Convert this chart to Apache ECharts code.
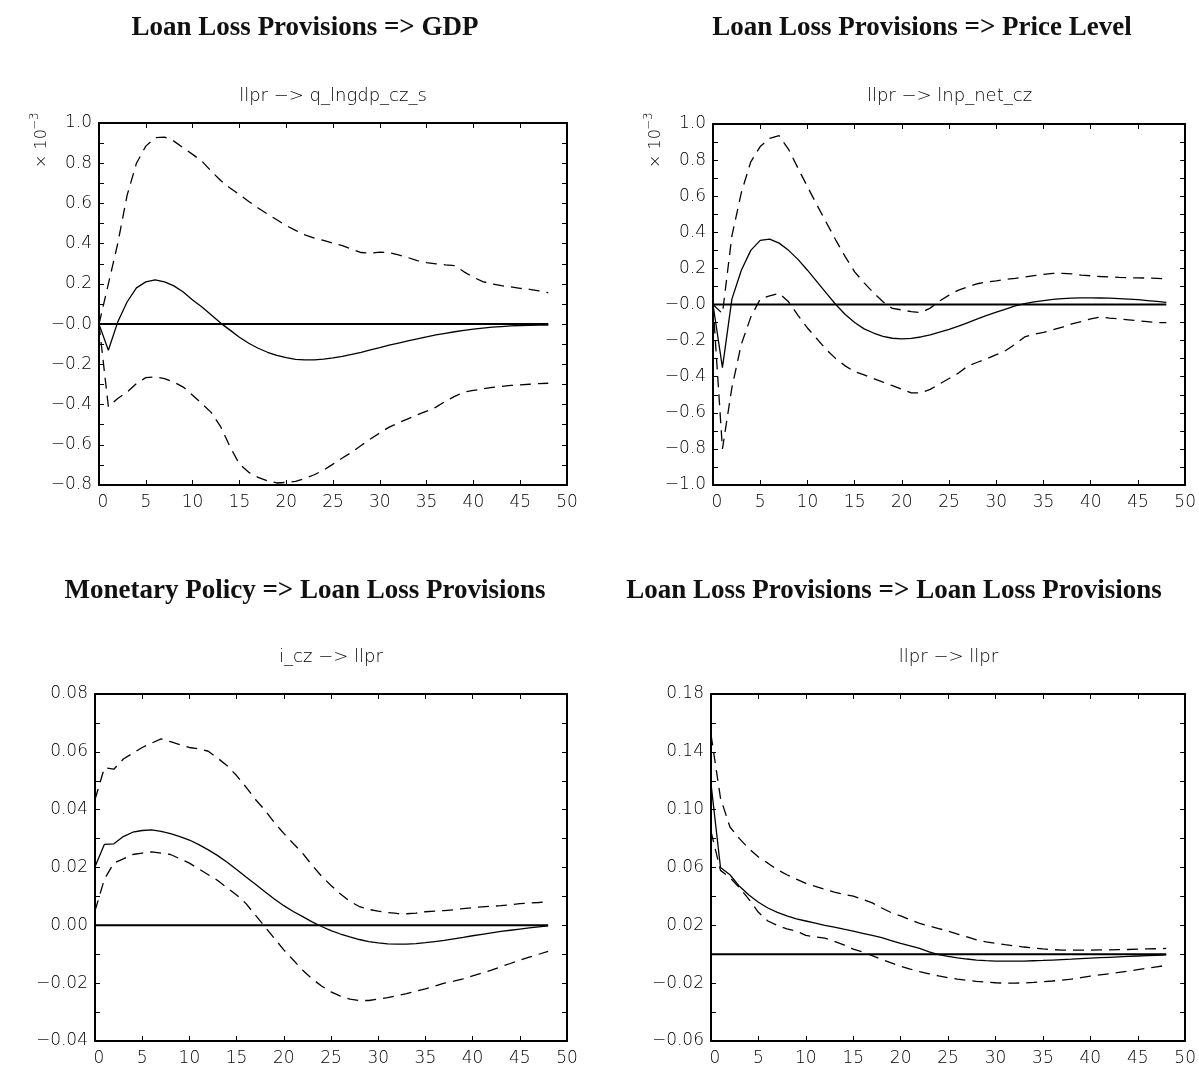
<!DOCTYPE html>
<html>
<head>
<meta charset="utf-8">
<title>Impulse responses: loan loss provisions</title>
<script src="https://cdn.jsdelivr.net/npm/echarts@6/dist/echarts.min.js"></script>
<style>
  html, body { margin: 0; padding: 0; background: #ffffff; }
  #chart { width: 1199px; height: 1068px; }
</style>
</head>
<body>
<div id="chart"></div>
<script>
// Forecast horizon (quarters after the shock)
const horizon = [0, 1, 2, 3, 4, 5, 6, 7, 8, 9, 10, 11, 12, 13, 14, 15, 16, 17, 18, 19, 20,
  21, 22, 23, 24, 25, 26, 27, 28, 29, 30, 31, 32, 33, 34, 35, 36, 37, 38, 39, 40,
  41, 42, 43, 44, 45, 46, 47, 48];

// llpr -> q_lngdp_cz_s  (x 10^-3)
const gdpIrf = [0, -0.13, 0.01, 0.11, 0.18, 0.21, 0.22, 0.21, 0.19, 0.16, 0.12, 0.085, 0.045, 0.005,
  -0.03, -0.065, -0.095, -0.12, -0.14, -0.155, -0.167, -0.175, -0.178, -0.178, -0.174, -0.168, -0.16,
  -0.15, -0.14, -0.128, -0.117, -0.105, -0.094, -0.083, -0.073, -0.063, -0.054, -0.046, -0.038, -0.031,
  -0.025, -0.02, -0.015, -0.012, -0.009, -0.007, -0.006, -0.005, -0.005];
const gdpUpper = [0, 0.2, 0.4, 0.64, 0.8, 0.885, 0.927, 0.93, 0.91, 0.877, 0.844, 0.81, 0.76, 0.714,
  0.677, 0.644, 0.61, 0.577, 0.547, 0.519, 0.49, 0.466, 0.444, 0.428, 0.416, 0.403, 0.39, 0.373, 0.356,
  0.353, 0.358, 0.356, 0.344, 0.331, 0.316, 0.306, 0.3, 0.295, 0.291, 0.26, 0.233, 0.211, 0.2, 0.191,
  0.185, 0.178, 0.173, 0.165, 0.156];
const gdpLower = [0, -0.41, -0.37, -0.338, -0.296, -0.266, -0.263, -0.271, -0.288, -0.313, -0.354,
  -0.396, -0.44, -0.51, -0.61, -0.696, -0.737, -0.762, -0.779, -0.79, -0.787, -0.782, -0.767, -0.749,
  -0.726, -0.696, -0.666, -0.637, -0.604, -0.571, -0.541, -0.512, -0.491, -0.471, -0.451, -0.433,
  -0.413, -0.384, -0.359, -0.338, -0.33, -0.322, -0.315, -0.31, -0.305, -0.302, -0.299, -0.296, -0.294];

// llpr -> lnp_net_cz  (x 10^-3)
const priceIrf = [0, -0.35, 0.03, 0.19, 0.3, 0.355, 0.362, 0.34, 0.3, 0.25, 0.19, 0.127, 0.063, 0,
  -0.055, -0.1, -0.135, -0.158, -0.176, -0.187, -0.19, -0.188, -0.18, -0.168, -0.153, -0.138, -0.12,
  -0.1, -0.08, -0.06, -0.042, -0.025, -0.008, 0.005, 0.015, 0.022, 0.028, 0.032, 0.035, 0.037, 0.037,
  0.036, 0.035, 0.033, 0.03, 0.027, 0.022, 0.017, 0.012];
const priceUpper = [0, -0.05, 0.38, 0.62, 0.79, 0.875, 0.92, 0.935, 0.86, 0.755, 0.653, 0.552, 0.454,
  0.357, 0.265, 0.181, 0.12, 0.065, 0.015, -0.022, -0.03, -0.04, -0.045, -0.02, 0.02, 0.052, 0.08,
  0.098, 0.115, 0.125, 0.131, 0.14, 0.145, 0.152, 0.16, 0.167, 0.172, 0.172, 0.17, 0.163, 0.159,
  0.155, 0.153, 0.15, 0.148, 0.148, 0.146, 0.145, 0.143];
const priceLower = [0, -0.8, -0.46, -0.22, -0.07, 0.03, 0.048, 0.062, 0.015, -0.06, -0.13, -0.19,
  -0.25, -0.3, -0.34, -0.372, -0.39, -0.41, -0.43, -0.45, -0.47, -0.49, -0.49, -0.47, -0.44, -0.41,
  -0.38, -0.34, -0.32, -0.3, -0.278, -0.255, -0.22, -0.18, -0.165, -0.155, -0.14, -0.125, -0.107,
  -0.095, -0.08, -0.069, -0.075, -0.08, -0.085, -0.09, -0.095, -0.1, -0.1];

// i_cz -> llpr
const rateIrf = [0.0203, 0.028, 0.0282, 0.0307, 0.0322, 0.0328, 0.033, 0.0325, 0.0317, 0.0307,
  0.0295, 0.0279, 0.0261, 0.0241, 0.0218, 0.0193, 0.0167, 0.0142, 0.0116, 0.0091, 0.0068, 0.0048,
  0.003, 0.0012, -0.0004, -0.0018, -0.003, -0.004, -0.0049, -0.0056, -0.0061, -0.0064, -0.0065,
  -0.0065, -0.0063, -0.006, -0.0056, -0.0052, -0.0047, -0.0042, -0.0036, -0.0031, -0.0026, -0.0021,
  -0.0017, -0.0013, -0.0009, -0.0005, -0.0002];
const rateUpper = [0.0435, 0.0545, 0.054, 0.0575, 0.0595, 0.0615, 0.063, 0.0645, 0.0635, 0.0625,
  0.0615, 0.061, 0.0602, 0.0578, 0.0552, 0.0518, 0.0478, 0.0435, 0.0398, 0.0355, 0.0318, 0.0283,
  0.0249, 0.0208, 0.017, 0.0138, 0.0108, 0.0083, 0.0065, 0.0055, 0.0049, 0.0044, 0.0041, 0.004,
  0.0042, 0.0047, 0.0049, 0.0051, 0.0054, 0.0058, 0.0061, 0.0064, 0.0066, 0.0068, 0.0071, 0.0075,
  0.0077, 0.0079, 0.0082];
const rateLower = [0.005, 0.016, 0.0215, 0.023, 0.0245, 0.025, 0.0254, 0.025, 0.0245, 0.023, 0.0215,
  0.0195, 0.0175, 0.0155, 0.013, 0.0105, 0.0075, 0.0035, -0.0005, -0.0045, -0.0085, -0.012, -0.0155,
  -0.0185, -0.021, -0.023, -0.0245, -0.0255, -0.026, -0.026, -0.0255, -0.025, -0.0243, -0.0236,
  -0.0228, -0.022, -0.021, -0.02, -0.0193, -0.0185, -0.0175, -0.0165, -0.0155, -0.0143, -0.0132,
  -0.012, -0.011, -0.01, -0.009];

// llpr -> llpr
const llprIrf = [0.118, 0.06, 0.055, 0.047, 0.041, 0.036, 0.032, 0.029, 0.0265, 0.0245, 0.023,
  0.0215, 0.02, 0.0187, 0.0173, 0.016, 0.0145, 0.013, 0.0115, 0.0095, 0.0075, 0.0058, 0.004, 0.0017,
  -0.0003, -0.0015, -0.0025, -0.0033, -0.004, -0.0044, -0.0047, -0.0048, -0.0048, -0.0047, -0.0045,
  -0.0043, -0.004, -0.0037, -0.0034, -0.003, -0.0027, -0.0024, -0.0021, -0.0018, -0.0015, -0.0012,
  -0.0009, -0.0007, -0.0005];
const llprUpper = [0.152, 0.108, 0.088, 0.08, 0.073, 0.0673, 0.063, 0.0585, 0.055, 0.052, 0.049,
  0.047, 0.045, 0.043, 0.0415, 0.0402, 0.038, 0.0355, 0.032, 0.0288, 0.0265, 0.0238, 0.0213, 0.0195,
  0.0178, 0.016, 0.014, 0.012, 0.01, 0.0085, 0.0075, 0.0066, 0.0058, 0.005, 0.0043, 0.0037, 0.0032,
  0.0029, 0.0028, 0.0028, 0.0028, 0.003, 0.003, 0.0032, 0.0033, 0.0035, 0.0037, 0.0038, 0.004];
const llprLower = [0.085, 0.058, 0.053, 0.046, 0.038, 0.029, 0.023, 0.02, 0.0175, 0.016, 0.013,
  0.012, 0.0112, 0.009, 0.0065, 0.0035, 0.0015, -0.001, -0.0035, -0.006, -0.0084, -0.0103, -0.012,
  -0.0135, -0.015, -0.0163, -0.0172, -0.018, -0.0187, -0.0193, -0.0197, -0.02, -0.02, -0.0198,
  -0.0195, -0.019, -0.0185, -0.0179, -0.0172, -0.0162, -0.0152, -0.0143, -0.0135, -0.0126, -0.0117,
  -0.0107, -0.0097, -0.0087, -0.0077];

// Tick labels
const horizonTicks = ['0', '5', '10', '15', '20', '25', '30', '35', '40', '45', '50'];
const gdpTicks = ['\u22120.8', '\u22120.6', '\u22120.4', '\u22120.2', '\u22120.0', '0.2', '0.4', '0.6', '0.8', '1.0'];
const priceTicks = ['\u22121.0', '\u22120.8', '\u22120.6', '\u22120.4', '\u22120.2', '\u22120.0', '0.2', '0.4', '0.6', '0.8', '1.0'];
const rateTicks = ['\u22120.04', '\u22120.02', '0.00', '0.02', '0.04', '0.06', '0.08'];
const llprTicks = ['\u22120.06', '\u22120.02', '0.02', '0.06', '0.10', '0.14', '0.18'];

// Headings
const panelTitles = [
  'Loan Loss Provisions => GDP',
  'Loan Loss Provisions => Price Level',
  'Monetary Policy => Loan Loss Provisions',
  'Loan Loss Provisions => Loan Loss Provisions'
];
const panelSubtitles = [
  'llpr \u2212> q_lngdp_cz_s',
  'llpr \u2212> lnp_net_cz',
  'i_cz \u2212> llpr',
  'llpr \u2212> llpr'
];

const LABEL_FONT = '"DejaVu Sans", sans-serif';
const LABEL_WEIGHT = 200;
const LABEL_COLOR = '#000000';
const TITLE_FONT = '"Liberation Serif", "Times New Roman", serif';

const panels = [
  { box: { left: 99, top: 123, width: 468, height: 362 }, min: -0.8, max: 1.0, step: 0.1,
    ticks: gdpTicks, irf: gdpIrf, upper: gdpUpper, lower: gdpLower, titleY: 28, subY: 96, scaled: true },
  { box: { left: 713, top: 124, width: 473, height: 361 }, min: -1.0, max: 1.0, step: 0.1,
    ticks: priceTicks, irf: priceIrf, upper: priceUpper, lower: priceLower, titleY: 28, subY: 96, scaled: true },
  { box: { left: 95, top: 694, width: 472, height: 347 }, min: -0.04, max: 0.08, step: 0.01,
    ticks: rateTicks, irf: rateIrf, upper: rateUpper, lower: rateLower, titleY: 591, subY: 657, scaled: false },
  { box: { left: 711, top: 694, width: 475, height: 347 }, min: -0.06, max: 0.18, step: 0.02,
    ticks: llprTicks, irf: llprIrf, upper: llprUpper, lower: llprLower, titleY: 591, subY: 657, scaled: false }
];
const titleCenters = [305, 922, 305, 894];

const frameLine = { show: true, onZero: false, lineStyle: { color: '#000', width: 2 } };
const innerTick = { show: true, inside: true, length: 5, lineStyle: { color: '#000', width: 1 } };
const labelText = { color: LABEL_COLOR, fontFamily: LABEL_FONT, fontWeight: LABEL_WEIGHT, fontSize: 17 };

const grid = [], xAxis = [], yAxis = [], series = [], graphic = [];

panels.forEach((p, i) => {
  grid.push(Object.assign({ containLabel: false }, p.box));

  const horizonLabel = Object.assign({
    show: true, margin: 9,
    formatter: v => {
      const k = Math.round(v / 5);
      return k === 0 ? '{z|' + horizonTicks[0] + '}' : horizonTicks[k];
    },
    rich: { z: Object.assign({ padding: [0, 0, 0, 8] }, labelText) }
  }, labelText);
  xAxis.push({ gridIndex: i, type: 'value', position: 'bottom', min: 0, max: 50, interval: 5,
    axisLine: frameLine, axisTick: innerTick, splitLine: { show: false }, axisLabel: horizonLabel });
  xAxis.push({ gridIndex: i, type: 'value', position: 'top', min: 0, max: 50, interval: 5,
    axisLine: frameLine, axisTick: innerTick, splitLine: { show: false }, axisLabel: { show: false } });

  const valueLabel = Object.assign({
    show: true, margin: 7,
    formatter: v => {
      const k = Math.round((v - p.min) / p.step);
      return k % 2 === 0 ? (p.ticks[k / 2] || '') : '';
    }
  }, labelText);
  yAxis.push({ gridIndex: i, type: 'value', position: 'left', min: p.min, max: p.max, interval: p.step,
    axisLine: frameLine, axisTick: innerTick, splitLine: { show: false }, axisLabel: valueLabel });
  yAxis.push({ gridIndex: i, type: 'value', position: 'right', min: p.min, max: p.max, interval: p.step,
    axisLine: frameLine, axisTick: innerTick, splitLine: { show: false }, axisLabel: { show: false } });

  const xi = 2 * i, yi = 2 * i;
  const pairs = arr => horizon.map((h, j) => [h, arr[j]]);
  const base = { type: 'line', xAxisIndex: xi, yAxisIndex: yi, showSymbol: false, symbol: 'none',
    silent: true, animation: false, smooth: false };

  series.push(Object.assign({}, base, { name: 'zero' + i, data: horizon.map(h => [h, 0]),
    lineStyle: { color: '#000', width: 2 }, z: 3 }));
  series.push(Object.assign({}, base, { name: 'irf' + i, data: pairs(p.irf),
    lineStyle: { color: '#000', width: 1.3 }, z: 4 }));
  series.push(Object.assign({}, base, { name: 'upper' + i, data: pairs(p.upper),
    lineStyle: { color: '#000', width: 1.3, type: [11, 7] }, z: 4 }));
  series.push(Object.assign({}, base, { name: 'lower' + i, data: pairs(p.lower),
    lineStyle: { color: '#000', width: 1.3, type: [11, 7] }, z: 4 }));

  const cx = p.box.left + p.box.width / 2;
  graphic.push({ type: 'text', x: titleCenters[i], y: p.titleY, silent: true,
    style: { text: panelTitles[i], fill: '#111', font: 'bold 27px ' + TITLE_FONT,
      align: 'center', verticalAlign: 'middle', textAlign: 'center', textVerticalAlign: 'middle' } });
  graphic.push({ type: 'text', x: cx, y: p.subY, silent: true,
    style: { text: panelSubtitles[i], fill: LABEL_COLOR, font: LABEL_WEIGHT + ' 18px ' + LABEL_FONT,
      align: 'center', verticalAlign: 'middle', textAlign: 'center', textVerticalAlign: 'middle' } });

  if (p.scaled) {
    // scale factor note, written bottom-to-top beside the value axis
    graphic.push({ type: 'group', x: p.box.left - 57, y: 168, rotation: Math.PI / 2, silent: true,
      children: [
        { type: 'text', x: 0, y: 0, style: { text: '\u00d7 10', fill: LABEL_COLOR,
          font: LABEL_WEIGHT + ' 16px ' + LABEL_FONT,
          align: 'left', verticalAlign: 'middle', textAlign: 'left', textVerticalAlign: 'middle' } },
        { type: 'text', x: 38, y: -7, style: { text: '\u22123', fill: LABEL_COLOR,
          font: LABEL_WEIGHT + ' 12px ' + LABEL_FONT,
          align: 'left', verticalAlign: 'middle', textAlign: 'left', textVerticalAlign: 'middle' } }
      ] });
  }
});

const chart = echarts.init(document.getElementById('chart'), null, { renderer: 'canvas' });
chart.setOption({
  backgroundColor: '#ffffff',
  animation: false,
  grid, xAxis, yAxis, series, graphic
});
</script>
</body>
</html>
